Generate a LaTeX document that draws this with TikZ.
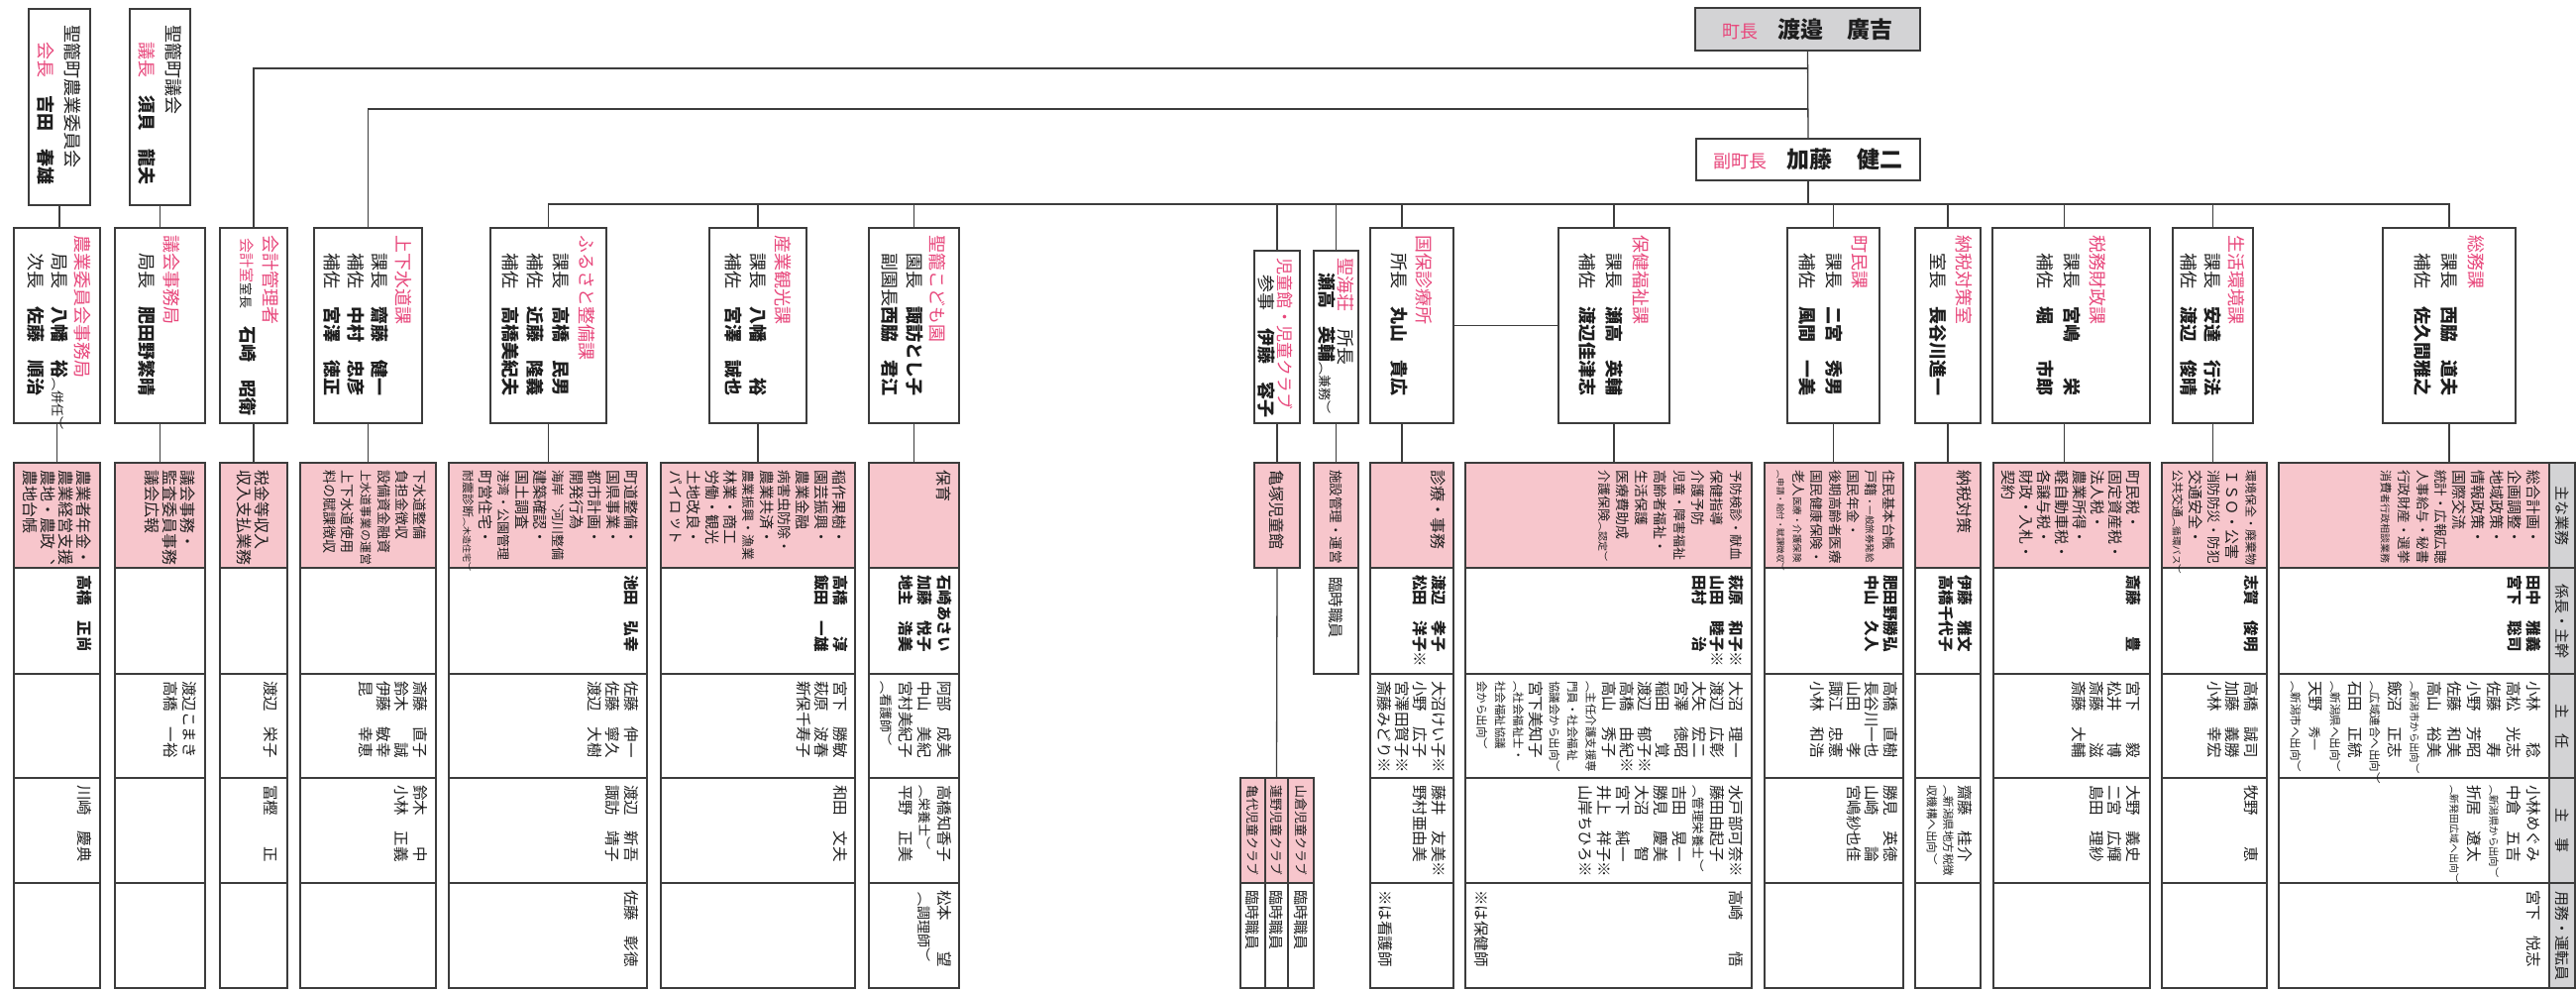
\documentclass[tikz,border=0pt]{standalone}
\usepackage{fontspec}
\newfontfamily\vjp[Vertical=RotatedGlyphs]{Noto Sans CJK JP}
\newfontfamily\hjp{Noto Sans CJK JP}
\definecolor{pk}{RGB}{232,72,124}
\definecolor{pkf}{RGB}{247,198,204}
\definecolor{gyf}{RGB}{211,211,213}
\definecolor{ln}{RGB}{60,60,60}
\definecolor{tx}{RGB}{30,30,30}
\newcommand\fs[1]{\fontsize{#1}{#1}\selectfont}
\newcommand\pk[1]{{\color{pk}#1}}
\newcommand\bd[1]{{\bfseries #1}}
\newcounter{tn}
\tikzset{
  vt/.style={rotate=-90,anchor=west,inner sep=0pt,outer sep=0pt,text=tx,font=\vjp\fs{15.5},
     /utils/exec={\stepcounter{tn}},name=v\arabic{tn}},
  l2/.style={font=\vjp\fs{18}},
  pt/.style={font=\vjp\fs{16}},
  st/.style={font=\vjp\fs{15.5}},
  lbox/.style={draw=ln,line width=1.4pt,inner sep=0pt,outer sep=0pt,anchor=north west,fill=white},
  tbox/.style={line width=2.6pt},
  conn/.style={draw=ln,line width=1.3pt},
  cell/.style={draw=ln,line width=1.4pt},
}
\newcommand\bx[6][]{\node[lbox,minimum width={(#5-#3)*1pt},minimum height={(#6-#4)*1pt},#1] (#2) at (#3,#4) {};}
\newcommand\vn[4][]{\node[vt,#1] at (#2,#3) {#4};}
\newcommand\cols[5][]{\foreach \vx [count=\vi] in {#5}{\node[vt,#1] at ({#2-(\vi-1)*#4},#3) {\vx};}}
\newcommand\stc[4][4]{%
  \node[lbox,fill=pkf,minimum width={(#4-#3)*1pt},minimum height=106pt] (#2) at (#3,467) {};
  \foreach \ya/\yb [count=\ri] in {573/680,680/785,785/891,891/997}{%
    \ifnum\ri>#1\relax\else\draw[cell] (#3,\ya) rectangle (#4,\yb);\fi}}
\begin{document}
\begin{tikzpicture}[x=1pt,y=-1pt]
\useasboundingbox (0,0) rectangle (2600,1001);
\fill[white] (0,0) rectangle (2600,1001);
% ---------- boxes level 0/1
\bx[tbox]{nogyo}{29}{9}{91}{207}
\bx[tbox]{gikai}{131}{9}{192}{207}
\bx[tbox,fill=gyf]{chocho}{1711}{8}{1938}{51}
\bx{fuku}{1712}{140}{1938}{182}
% ---------- level 2 boxes
\bx{nogyojm}{14}{230}{101}{427}
\bx{gikaijm}{116}{230}{207}{427}
\bx{kaikei}{222}{230}{290}{427}
\bx{josui}{317}{230}{426}{427}
\bx{furusato}{495}{230}{612}{427}
\bx{sangyo}{716}{230}{814}{427}
\bx{kodomo}{877}{230}{968}{427}
\bx{jidokan}{1266}{253}{1312}{427}
\bx{seikaiso}{1326}{253}{1371}{427}
\bx{kokuho}{1383}{230}{1467}{427}
\bx{hoken}{1573}{230}{1685}{427}
\bx{chomin}{1804}{230}{1897}{427}
\bx{nozei}{1933}{230}{1999}{427}
\bx{zeimu}{2011}{230}{2170}{427}
\bx{seikatsu}{2193}{230}{2274}{427}
\bx{somu}{2405}{230}{2539}{427}
% ---------- staff columns
\stc{c1}{14}{101}
\stc{c2}{116}{207}
\stc{c3}{222}{290}
\stc{c4}{303}{440}
\stc{c5}{453}{653}
\stc{c6}{667}{863}
\stc{c7}{877}{968}
\stc[0]{c8}{1266}{1312}
\stc[1]{c9}{1326}{1371}
\stc{c10}{1383}{1467}
\stc{c11}{1479}{1768}
\stc{c12}{1781}{1921}
\stc{c13}{1933}{1999}
\stc{c14}{2012}{2170}
\stc{c15}{2182}{2288}
\stc{c16}{2300}{2573}
% children's clubs
\node[lbox,fill=pkf,minimum width=25pt,minimum height=106pt] (kc1) at (1252,785) {};
\node[lbox,fill=pkf,minimum width=23pt,minimum height=106pt] (kc2) at (1277,785) {};
\node[lbox,fill=pkf,minimum width=26pt,minimum height=106pt] (kc3) at (1300,785) {};
\draw[cell] (1252,891) rectangle (1277,997);
\draw[cell] (1277,891) rectangle (1300,997);
\draw[cell] (1300,891) rectangle (1326,997);
% legend
\node[lbox,fill=gyf,minimum width=26pt,minimum height=106pt] (lg1) at (2573,467) {};
\node[lbox,fill=gyf,minimum width=26pt,minimum height=107pt] (lg2) at (2573,573) {};
\node[lbox,fill=gyf,minimum width=26pt,minimum height=105pt] (lg3) at (2573,680) {};
\node[lbox,fill=gyf,minimum width=26pt,minimum height=106pt] (lg4) at (2573,785) {};
\node[lbox,fill=gyf,minimum width=26pt,minimum height=106pt] (lg5) at (2573,891) {};
% ---------- connectors
\coordinate (bA) at (chocho.south |- 0,69);
\coordinate (bB) at (chocho.south |- 0,110);
\coordinate (bC) at (fuku.south |- 0,206);
\draw[conn] (chocho.south) -- (fuku.north);
\draw[conn] (bA) -| (kaikei.north);
\draw[conn] (bB) -| (josui.north);
\draw[conn] (fuku.south) -- (bC);
\draw[conn] (furusato.north) |- (somu.north |- bC) -- (somu.north);
\path (kokuho.north) ++(-10,0) coordinate (kkt);
\path (kokuho.south) ++(-10,0) coordinate (kkb);
\path (zeimu.north) ++(-7,0) coordinate (zmt);
\path (zeimu.south) ++(-7,0) coordinate (zmb);
\foreach \n in {sangyo,kodomo,jidokan,seikaiso,hoken,chomin,nozei,seikatsu}{\draw[conn] (\n.north) -- (\n.north |- bC);}
\draw[conn] (kkt) -- (kkt |- bC);
\draw[conn] (zmt) -- (zmt |- bC);
\draw[conn] (nogyo.south) -- (nogyo.south |- nogyojm.north);
\draw[conn] (gikai.south) -- (gikai.south |- gikaijm.north);
\draw[conn] (kokuho.east) -- (hoken.west);
\foreach \b/\c in {nogyojm/c1,gikaijm/c2,kaikei/c3,josui/c4,furusato/c5,sangyo/c6,kodomo/c7,jidokan/c8,seikaiso/c9,hoken/c11,chomin/c12,nozei/c13,seikatsu/c15,somu/c16}{\draw[conn] (\b.south) -- (\b.south |- \c.north);}
\draw[conn] (kkb) -- (kkb |- c10.north);
\draw[conn] (zmb) -- (zmb |- c14.north);
\draw[conn] (c8.south) -- (kc2.north);
% ---------- horizontal texts
\node[font=\hjp,text=tx,inner sep=0pt] (chochoT) at (chocho.center) {\pk{\fs{18}町長}\hspace{20pt}{\bfseries\fs{23}渡邉\hspace{25pt}廣吉}};
\node[font=\hjp,text=tx,inner sep=0pt] (fukuT) at (fuku.center) {\pk{\fs{18}副町長}\hspace{20pt}{\bfseries\fs{23}加藤\hspace{25pt}健二}};
% ---------- level 1 texts
\vn[l2]{73}{25}{聖籠町農業委員会}
\vn[l2]{46}{42}{\pk{会長}　\bd{吉田　春雄}}
\vn[l2]{175}{25}{聖籠町議会}
\vn[l2]{148}{42}{\pk{議長}　\bd{須貝　龍夫}}
% ---------- level 2 texts
\vn[l2]{83}{237}{\pk{農業委員会事務局}}
\vn[l2]{60}{255}{局長　\bd{八幡　裕}\fs{13}（併任）}
\vn[l2]{36}{255}{次長　\bd{佐藤　順治}}
\vn[l2]{173}{237}{\pk{議会事務局}}
\vn[l2]{148}{255}{局長　\bd{肥田野繁晴}}
\vn[l2]{273}{237}{\pk{会計管理者}}
\vn[l2]{250}{240}{\pk{\fs{15}会計室}\fs{13}室長\fs{18}　\bd{石崎　昭衛}}
\vn[l2]{407}{237}{\pk{上下水道課}}
\vn[l2]{383}{255}{課長　\bd{齋藤　健一}}
\vn[l2]{359}{255}{補佐　\bd{中村　忠彦}}
\vn[l2]{335}{255}{補佐　\bd{宮澤　徳正}}
\vn[l2]{592}{237}{\pk{ふるさと整備課}}
\vn[l2]{566}{255}{課長　\bd{高橋　民男}}
\vn[l2]{540}{255}{補佐　\bd{近藤　隆義}}
\vn[l2]{515}{255}{補佐　\bd{高橋美紀夫}}
\vn[l2]{790}{237}{\pk{産業観光課}}
\vn[l2]{765}{255}{課長　\bd{八幡　　裕}}
\vn[l2]{740}{255}{補佐　\bd{宮澤　誠也}}
\vn[l2]{946}{237}{\pk{聖籠こども園}}
\vn[l2]{923}{255}{園長　\bd{諏訪とし子}}
\vn[l2]{898}{255}{副園長\bd{西脇　君江}}
\vn[l2,font=\vjp\fs{17}]{1297}{260}{\pk{児童館・児童クラブ}}
\vn[l2]{1278}{277}{参事　\bd{伊藤　容子}}
\vn[l2]{1358}{260}{\pk{聖海荘}　所長}
\vn[l2]{1339}{275}{\bd{瀬高　英輔}\fs{13}（兼務）}
\vn[l2]{1437}{237}{\pk{国保診療所}}
\vn[l2]{1412}{255}{所長　\bd{丸山　貴広}}
\vn[l2]{1656}{237}{\pk{保健福祉課}}
\vn[l2]{1629}{255}{課長　\bd{瀬高　英輔}}
\vn[l2]{1602}{255}{補佐　\bd{渡辺佳津志}}
\vn[l2]{1877}{237}{\pk{町民課}}
\vn[l2]{1851}{255}{課長　\bd{二宮　秀男}}
\vn[l2]{1824}{255}{補佐　\bd{風間　一美}}
\vn[l2]{1982}{237}{\pk{納税対策室}}
\vn[l2]{1956}{255}{室長　\bd{長谷川進一}}
\vn[l2]{2117}{237}{\pk{税務財政課}}
\vn[l2]{2091}{255}{課長　\bd{宮嶋　　栄}}
\vn[l2]{2064}{255}{補佐　\bd{堀　　市郎}}
\vn[l2]{2257}{237}{\pk{生活環境課}}
\vn[l2]{2233}{255}{課長　\bd{安達　行法}}
\vn[l2]{2209}{255}{補佐　\bd{渡辺　俊晴}}
\vn[l2]{2499}{237}{\pk{総務課}}
\vn[l2]{2472}{255}{課長　\bd{西脇　道夫}}
\vn[l2]{2445}{255}{補佐　\bd{佐久間雅之}}
% ---------- c1
\cols[pt]{85}{474}{18.3}{農業者年金・,農業経営支援,農地・農政、,農地台帳}
\cols[st]{85}{580}{18.3}{\bd{高橋　正尚}}
\cols[st]{85}{792}{18.3}{川崎　慶典}
% ---------- c2
\cols[pt]{190}{474}{18.3}{議会事務・,監査委員事務,議会広報}
\cols[st]{191}{687}{18.3}{渡辺こまき,高橋　一裕}
% ---------- c3
\cols[pt]{265}{474}{18.3}{税金等収入,収入支払業務}
\cols[st]{273}{687}{18.3}{渡辺　栄子}
\cols[st]{273}{792}{18.3}{冨樫　　正}
% ---------- c4
\cols[pt,font=\vjp\fs{14}]{424}{474}{18.3}{下水道整備,負担金徴収,設備資金融資,\fs{12}上水道事業の運営,上下水道使用,料の賦課徴収}
\cols[st]{424}{687}{18.3}{斎藤　直子,鈴木　　誠,伊藤　敏幸,昆　　幸恵}
\cols[st]{424}{792}{18.3}{鈴木　　中,小林　正義}
% ---------- c5
\cols[pt,font=\vjp\fs{15}]{637}{474}{18.3}{町道整備・,国県事業・,都市計画・,開発行為,\fs{13}海岸、河川整備,建築確認・,国土調査,\fs{13}港湾・公園管理,町営住宅・,\fs{12}耐震診断\fs{9}（木造住宅）}
\cols[st]{637}{580}{18.3}{\bd{池田　弘幸}}
\cols[st]{637}{687}{18.3}{佐藤　伸一,佐藤　寧久,渡辺　大樹}
\cols[st]{637}{792}{18.3}{渡辺　新吾,諏訪　靖子}
\cols[st]{637}{898}{18.3}{佐藤　彰徳}
% ---------- c6
\cols[pt,font=\vjp\fs{15}]{847}{474}{18.3}{稲作果樹・,園芸振興・,農業金融,\fs{14}病害虫防除・,農業共済・,\fs{13}農業振興・漁業,林業・商工,労働・観光,土地改良・,パイロット}
\cols[st]{848}{580}{18.3}{\bd{高橋　　淳},\bd{飯田　一雄}}
\cols[st]{848}{687}{18.3}{宮下　勝敏,萩原　波春,新保千寿子}
\cols[st]{848}{792}{18.3}{和田　文夫}
% ---------- c7
\cols[pt]{953}{474}{18.3}{保育}
\cols[st]{953}{580}{19.5}{\bd{石崎あさい},\bd{加藤　悦子},\bd{地主　浩美}}
\cols[st]{953}{687}{19.5}{阿部　成美,中山　美紀,宮村美紀子,\fs{13}（看護師）}
\cols[st]{953}{792}{19.5}{高橋知香子,\fs{13}（栄養士）,平野　正美}
\vn[st]{953}{898}{松本　　望}
\vn[st,font=\vjp\fs{14}]{933}{900}{（調理師）}
% ---------- c8/c9 and clubs
\vn[pt]{1289}{474}{亀塚児童館}
\vn[st,font=\vjp\fs{13}]{1264.5}{792}{亀代児童クラブ}
\vn[st,font=\vjp\fs{13}]{1288.5}{792}{蓮野児童クラブ}
\vn[st,font=\vjp\fs{13}]{1313}{792}{山倉児童クラブ}
\vn[st,font=\vjp\fs{15}]{1264.5}{898}{臨時職員}
\vn[st,font=\vjp\fs{15}]{1288.5}{898}{臨時職員}
\vn[st,font=\vjp\fs{15}]{1313}{898}{臨時職員}
\vn[pt,font=\vjp\fs{13.5}]{1348.5}{474}{施設管理・運営}
\vn[st]{1348.5}{582}{臨時職員}
% ---------- c10
\vn[pt]{1452}{474}{診療・事務}
\cols[st]{1452}{580}{18.3}{\bd{渡辺　孝子},\bd{松田　洋子※}}
\cols[st]{1452}{687}{18.3}{大沼けい子※,小野　広子,宮澤田賀子※,斎藤みどり※}
\cols[st]{1452}{792}{18.3}{藤井　友美※,野村亜由美}
\vn[st]{1398}{898}{※は看護師}
% ---------- c11
\cols[pt,font=\vjp\fs{14}]{1752}{474}{19}{\fs{13}予防検診・献血,保健指導,介護予防,\fs{13}児童・障害福祉,高齢者福祉・,生活保護,医療費助成,\fs{13}介護保険\fs{10}（認定）}
\cols[st]{1752}{580}{18.5}{\bd{萩原　和子※},\bd{山田　睦子※},\bd{田村　　治}}
\cols[st]{1752}{687}{18.3}{大沼　理一,渡辺　広彰,大矢　宏二,宮澤　徳昭,稲田　　覚,渡辺　郁子※,高橋　由紀※,高山　秀子,\fs{11.5}（主任介護支援専,\fs{11.5}門員・社会福祉,\fs{11.5}協議会から出向）,宮下美知子,\fs{11.5}（社会福祉士・,\fs{11.5}社会福祉協議,\fs{11.5}会から出向）}
\cols[st]{1752}{792}{19}{水戸部可奈※,藤田由起子,\fs{12.5}（管理栄養士）,吉田　晃一,勝見　慶美,大沼　　智,宮下　純一,井上　祥子※,山岸ちひろ※}
\vn[st]{1752}{898}{高崎　　悟}
\vn[st]{1495}{898}{※は保健師}
% ---------- c12
\cols[pt,font=\vjp\fs{13.5}]{1907}{474}{18.3}{住民基本台帳,戸籍\fs{9.5}・一般旅券発給,国民年金・,後期高齢者医療,国民健康保険・,老人\fs{9.5}医療・介護保険,\fs{8.5}（申請・給付・賦課徴収）}
\cols[st]{1908}{580}{18.3}{\bd{肥田野勝弘},\bd{中山　久人}}
\cols[st]{1908}{687}{18.3}{高橋　直樹,長谷川一也,山田　　孝,諏江　忠憲,小林　和浩}
\cols[st]{1908}{792}{18.3}{勝見　英徳,山崎　　論,宮嶋紗也佳}
% ---------- c13
\vn[pt]{1983}{474}{納税対策}
\cols[st]{1983}{580}{18.3}{\bd{伊藤　雅文},\bd{高橋千代子}}
\cols[st]{1983}{792}{16.5}{齋藤　桂介,\fs{11.5}（新潟県地方税徴,\fs{11.5}収機構へ出向）}
% ---------- c14
\cols[pt,font=\vjp\fs{15}]{2153}{474}{18}{町民税・,固定資産税・,法人税・,農業所得・,軽自動車税・,各譲与税・,財政・入札・,契約}
\cols[st]{2153}{580}{18.3}{\bd{斎藤　　豊}}
\cols[st]{2153}{687}{18.3}{宮下　　毅,松井　　博,斎藤　　滋,斎藤　大輔}
\cols[st]{2153}{792}{18.3}{大野　義史,二宮　広輝,島田　理紗}
% ---------- c15
\cols[pt,font=\vjp\fs{15}]{2272}{474}{18.5}{\fs{12}環境保全・廃棄物,ＩＳＯ・公害,\fs{13.5}消防防災・防犯,交通安全・,\fs{12}公共交通\fs{9.5}（循環バス）}
\cols[st]{2272}{580}{18.3}{\bd{志賀　俊明}}
\cols[st]{2272}{687}{18.3}{高橋　誠司,加藤　義勝,小林　幸宏}
\cols[st]{2272}{792}{18.3}{牧野　　恵}
% ---------- c16
\cols[pt,font=\vjp\fs{15}]{2557}{474}{18.6}{総合計画・,企画調整・,地域政策・,情報政策・,国際交流,\fs{13.5}統計・広報広聴,\fs{13.5}人事給与・秘書,\fs{13.5}行政財産・選挙,\fs{12}消費\fs{10}者行政相談業務}
\cols[st]{2557}{580}{19}{\bd{田中　雅義},\bd{宮下　聡司}}
\cols[st]{2557}{687}{20}{小林　　稔,高松　光志,佐藤　　寿,小野　芳昭,佐藤　和美,高山　裕美,\fs{10.4}（新潟市から出向）,飯沼　正志,\fs{11.5}（広域連合へ出向）,石田　正統,\fs{11.5}（新潟県へ出向）,天野　\fs{12}秀一,\fs{11.5}（新潟市へ出向）}
\cols[st]{2557}{792}{20}{小林めぐみ,中倉　五吉,\fs{10.4}（新潟県から出向）,折居　遼太,\fs{9.9}（新発田広域へ出向）}
\vn[st]{2557}{898}{宮下　悦志}
% ---------- legend
\node[vt,anchor=center,font=\vjp\fs{15}] at (lg1.center) {主な業務};
\node[vt,anchor=center,font=\vjp\fs{15}] at (lg2.center) {係長・主幹};
\node[vt,anchor=center,font=\vjp\fs{15}] at (lg3.center) {主　任};
\node[vt,anchor=center,font=\vjp\fs{15}] at (lg4.center) {主　事};
\node[vt,anchor=center,font=\vjp\fs{15}] at (lg5.center) {用務・運転員};
\end{tikzpicture}
\end{document}
